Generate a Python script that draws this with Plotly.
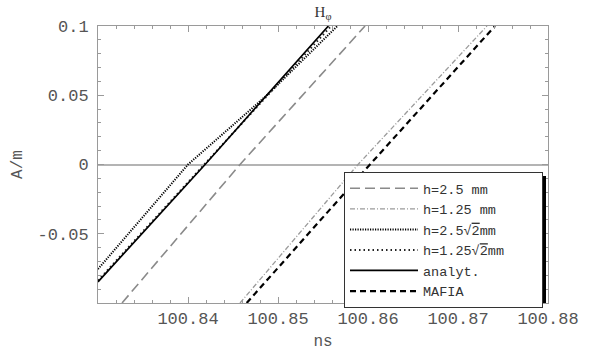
import plotly.graph_objects as go

# ---- data (time in ns, field in A/m) ----
t_h25 = [100.83267, 100.84578, 100.85967]
v_h25 = [-0.1, 0.0, 0.1]

t_h125 = [100.84578, 100.85889, 100.87322]
v_h125 = [-0.1, 0.0, 0.1]

t_h25s2 = [100.8300, 100.8400, 100.8487, 100.8566]
v_h25s2 = [-0.0755, 0.0, 0.0496, 0.1]

t_h125s2 = [100.8300, 100.8418, 100.8559]
v_h125s2 = [-0.0838, 0.0, 0.1]

t_analyt = [100.8300, 100.8419, 100.8556]
v_analyt = [-0.0847, 0.0, 0.1]

t_mafia = [100.84652, 100.86022, 100.87411]
v_mafia = [-0.1, 0.0, 0.1]

names = ["h=2.5 mm", "h=1.25 mm",
         "h=2.5√<span style='text-decoration:overline'>2</span>mm",
         "h=1.25√<span style='text-decoration:overline'>2</span>mm\u00a0\u00a0\u00a0\u00a0",
         "analyt.", "MAFIA"]

x_ticks = [100.84, 100.85, 100.86, 100.87, 100.88]
x_ticktext = ["100.84", "100.85", "100.86", "100.87", "100.88"]
y_ticks = [-0.05, 0.0, 0.05, 0.1]
y_ticktext = ["-0.05", "0", "0.05", "0.1"]

MONO = "Liberation Mono, Courier New, monospace"

fig = go.Figure()
styles = [
    (t_h25, v_h25, dict(color="#8a8a8a", width=1.6, dash="10px,5px")),
    (t_h125, v_h125, dict(color="#9a9a9a", width=1.3, dash="5px,2px,1px,2px")),
    (t_h25s2, v_h25s2, dict(color="black", width=2.0, dash="1.2px,1.3px")),
    (t_h125s2, v_h125s2, dict(color="#222222", width=2.0, dash="1.5px,3px")),
    (t_analyt, v_analyt, dict(color="black", width=1.7)),
    (t_mafia, v_mafia, dict(color="black", width=2.2, dash="6px,4px")),
]
for (xs, ys, ln), nm in zip(styles, names):
    fig.add_trace(go.Scatter(x=xs, y=ys, mode="lines", name=nm, line=ln))

axis_common = dict(
    showline=True, linecolor="#9a9a9a", linewidth=1, mirror="allticks",
    ticks="inside", ticklen=6, tickcolor="#9a9a9a", showgrid=False,
    tickfont=dict(family=MONO, size=17, color="#555555"),
    automargin=False,
)

fig.update_xaxes(
    range=[100.83, 100.88], tickvals=x_ticks, ticktext=x_ticktext,
    zeroline=False, ticklabelstandoff=0,
    minor=dict(dtick=0.002, tick0=100.83, ticks="inside", ticklen=3, tickcolor="#9a9a9a"),
    title=dict(text="ns", font=dict(family=MONO, size=16, color="#555555"), standoff=6),
    **axis_common,
)
fig.update_yaxes(
    range=[-0.1, 0.1], tickvals=y_ticks, ticktext=y_ticktext,
    zeroline=True, zerolinecolor="#b4b4b4", zerolinewidth=1.5, ticklabelstandoff=5,
    minor=dict(dtick=0.01, tick0=0, ticks="inside", ticklen=3, tickcolor="#9a9a9a"),
    title=dict(text="A/m", font=dict(family=MONO, size=16, color="#555555"), standoff=10),
    **axis_common,
)

lx, ly = (344 - 98) / 450, (303 - 172) / 277
fig.add_shape(type="rect", xref="paper", yref="paper",
              x0=(348 - 98) / 450, x1=(546 - 98) / 450,
              y0=(303 - 303) / 277, y1=(303 - 176) / 277,
              fillcolor="black", line=dict(width=0), layer="above")

fig.update_layout(
    width=592, height=351,
    margin=dict(l=98, r=44, t=26, b=48),
    paper_bgcolor="white", plot_bgcolor="white",
    title=dict(text="H<sub>φ</sub>", x=323 / 592, xanchor="center", y=1 - 12 / 351, yanchor="middle",
               font=dict(family="Liberation Serif, Times New Roman, serif", size=15, color="#333333")),
    showlegend=True,
    legend=dict(x=lx, y=ly, xanchor="left", yanchor="top",
                bgcolor="white", bordercolor="#333333", borderwidth=1,
                font=dict(family=MONO, size=13.5, color="#333333"),
                itemwidth=68, tracegroupgap=0),
)

fig.write_html("out.html")
